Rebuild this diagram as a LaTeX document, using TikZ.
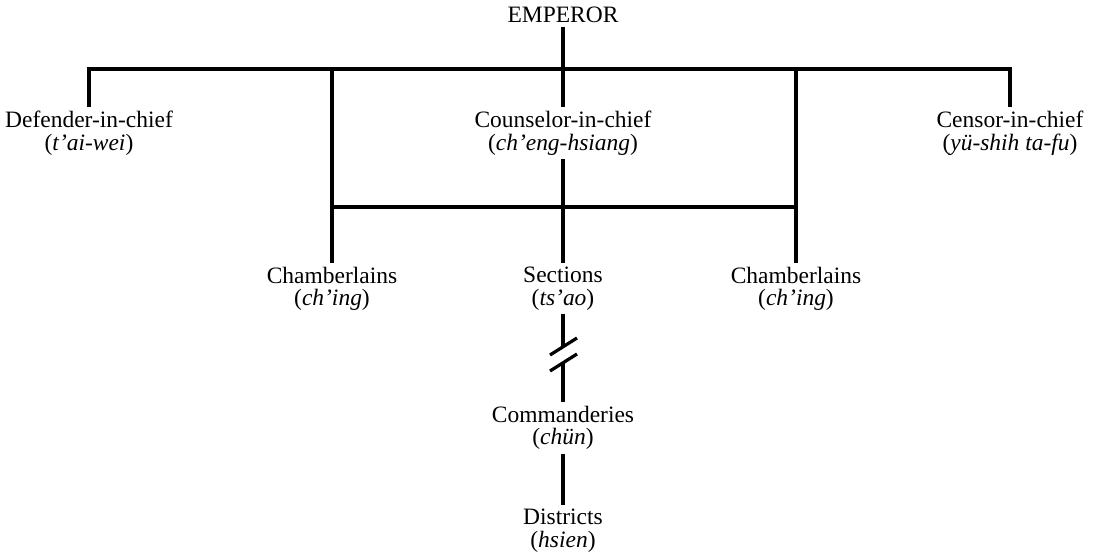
\documentclass[tikz,border=0pt]{standalone}
\usepackage{fontspec}
\setmainfont{Liberation Serif}
\usetikzlibrary{calc}

\begin{document}
\begin{tikzpicture}[line width=2.3pt,
  font=\fontsize{16.7}{16.0}\selectfont,
  office/.style={align=center, anchor=north, inner sep=0pt, outer sep=0.1cm}]
\useasboundingbox (0,0) rectangle (27.8,-13.825);

% Court: emperor and the three chiefs
\node[office] (emp) at (14.075,-0.075) {EMPEROR};
\node[office] (def) at (2.225,-2.675) {Defender-in-chief\\(\textit{t'ai-wei})};
\node[office] (cou) at (14.075,-2.675) {Counselor-in-chief\\(\textit{ch'eng-hsiang})};
\node[office] (cen) at (25.25,-2.675) {Censor-in-chief\\(\textit{yü-shih ta-fu})};

% Chamberlains and sections
\node[office] (chl) at (8.3,-6.575) {Chamberlains\\(\textit{ch'ing})};
\node[office] (sec) at (14.075,-6.575) {Sections\\(\textit{ts'ao})};
\node[office] (chr) at (19.9,-6.575) {Chamberlains\\(\textit{ch'ing})};

% Provinces
\node[office] (cmd) at (14.075,-10.05) {Commanderies\\(\textit{chün})};
\node[office] (dis) at (14.075,-12.625) {Districts\\(\textit{hsien})};

% Connectors
\coordinate (barR) at (25.25,-1.725);
\coordinate (hall) at (14.075,-5.175);
\draw (def.north) |- (barR) -- (cen.north);
\draw (emp) -- (cou);
\draw (chl.north) -- (chl |- barR);
\draw (chr.north) -- (chr |- barR);
\draw (chl |- hall) -- (chr |- hall);
\draw (cou) -- (sec);

% broken link down to the commanderies
\coordinate (gapT) at (14.075,-8.675);
\coordinate (gapB) at (14.075,-9.075);
\draw (sec) -- (gapT);
\draw ($(gapT)+(-0.325,-0.2)$) -- ($(gapT)+(0.35,0.225)$);
\draw ($(gapB)+(-0.325,-0.2)$) -- ($(gapB)+(0.35,0.225)$);
\draw (gapB) -- (cmd);
\draw (cmd) -- (dis);
\end{tikzpicture}
\end{document}
